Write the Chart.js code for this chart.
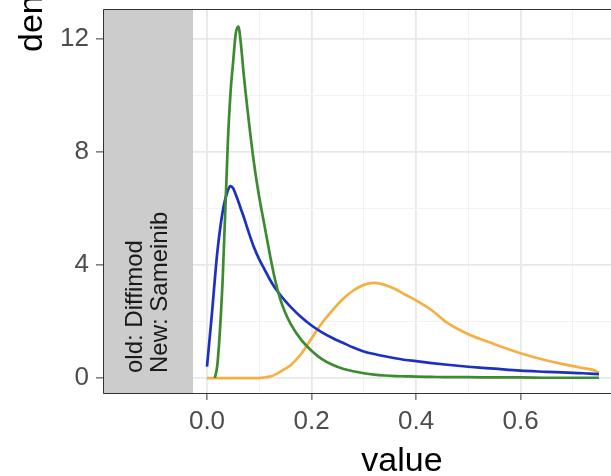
<!DOCTYPE html>
<html lang="en">
  <head>
    <meta charset="UTF-8" />
    <title>Density by value</title>
    <script src="https://cdn.jsdelivr.net/npm/chart.js"></script>
    <style>
      body { margin: 0; background: #fff; }
    </style>
  </head>
  <body>
    <canvas id="densityChart" width="611" height="476"></canvas>
    <script>
      // x positions shared by all three density curves
      const xValues = [
        0, 0.01, 0.015, 0.02, 0.03, 0.04, 0.045, 0.05, 0.055, 0.06, 0.065, 0.07,
        0.08, 0.09, 0.1, 0.11, 0.12, 0.13, 0.14, 0.15, 0.16, 0.18, 0.2, 0.22,
        0.24, 0.26, 0.28, 0.3, 0.32, 0.34, 0.36, 0.38, 0.4, 0.43, 0.46, 0.5,
        0.55, 0.6, 0.65, 0.7, 0.72, 0.74, 0.75,
      ];
      const greenDensity = [
        null, null, 0, 0.5, 3.5, 8.4, 10.1, 11.2, 12.2, 12.45, 11.8, 10.8,
        9.1, 7.6, 6.4, 5.4, 4.4, 3.5, 2.8, 2.3, 1.92, 1.36, 0.97, 0.67,
        0.47, 0.33, 0.24, 0.17, 0.12, 0.09, 0.07, 0.06, 0.05, 0.04, 0.03, 0.03,
        0.02, 0.02, 0.01, 0.01, 0.01, 0.01, 0.01,
      ];
      const blueDensity = [
        0.4, 2.4, 3.5, 4.5, 5.9, 6.65, 6.8, 6.72, 6.5, 6.25, 5.98, 5.72,
        5.15, 4.62, 4.2, 3.85, 3.5, 3.2, 2.95, 2.72, 2.52, 2.16, 1.86, 1.62,
        1.42, 1.25, 1.08, 0.94, 0.85, 0.77, 0.7, 0.64, 0.6, 0.53, 0.47, 0.4,
        0.33, 0.26, 0.22, 0.18, 0.17, 0.15, 0.14,
      ];
      const orangeDensity = [
        0, 0, 0, 0, 0, 0, 0, 0, 0, 0, 0, 0,
        0, 0, 0, 0.02, 0.05, 0.12, 0.22, 0.33, 0.45, 0.85, 1.4, 1.95,
        2.4, 2.8, 3.1, 3.3, 3.37, 3.3, 3.15, 2.95, 2.75, 2.4, 1.95, 1.55,
        1.2, 0.88, 0.62, 0.42, 0.35, 0.28, 0.18,
      ];
      const stripLines = ["old: Diffimod", "New: Sameinib"];
      const xTitle = "value";
      const yTitle = "density";

      function toPoints(values) {
        return xValues.map((x, i) => ({ x: x, y: values[i] }));
      }

      const isMajorX = (v) => Math.round(v * 10) % 2 === 0;
      const isMajorY = (v) => Math.round(v) % 4 === 0;

      const panelDecor = {
        id: "panelDecor",
        beforeDatasetsDraw(chart) {
          const { ctx, chartArea } = chart;
          ctx.save();
          ctx.fillStyle = "#cccccc";
          ctx.fillRect(chartArea.left, chartArea.top, 90, chartArea.bottom - chartArea.top);
          // strip label, rotated
          ctx.translate(chartArea.left + 39, chartArea.bottom - 20);
          ctx.rotate(-Math.PI / 2);
          ctx.fillStyle = "#1a1a1a";
          ctx.font = "24px 'Liberation Sans', Arial, sans-serif";
          ctx.textAlign = "left";
          ctx.textBaseline = "alphabetic";
          stripLines.forEach((line, i) => {
            ctx.fillText(line, 0, i * 25);
          });
          ctx.restore();
        },
        afterDatasetsDraw(chart) {
          const { ctx, chartArea } = chart;
          ctx.save();
          ctx.strokeStyle = "#333333";
          ctx.lineWidth = 1;
          ctx.beginPath();
          ctx.moveTo(chartArea.right, chartArea.top + 0.5);
          ctx.lineTo(chartArea.left + 0.5, chartArea.top + 0.5);
          ctx.lineTo(chartArea.left + 0.5, chartArea.bottom + 0.5);
          ctx.lineTo(chartArea.right, chartArea.bottom + 0.5);
          ctx.stroke();
          ctx.restore();
        },
        afterDraw(chart) {
          const { ctx } = chart;
          ctx.save();
          ctx.fillStyle = "#000000";
          ctx.font = "34px 'Liberation Sans', Arial, sans-serif";
          ctx.textAlign = "center";
          ctx.textBaseline = "alphabetic";
          ctx.fillText(xTitle, 402, 471);
          ctx.translate(42, 52);
          ctx.rotate(-Math.PI / 2);
          ctx.textAlign = "left";
          ctx.fillText(yTitle, 0, 0);
          ctx.restore();
        },
      };

      const ctx = document.getElementById("densityChart").getContext("2d");
      new Chart(ctx, {
        type: "line",
        data: {
          datasets: [
            {
              label: "green",
              data: toPoints(greenDensity),
              borderColor: "#3d8b30",
            },
            {
              label: "blue",
              data: toPoints(blueDensity),
              borderColor: "#1c30c2",
            },
            {
              label: "orange",
              data: toPoints(orangeDensity),
              borderColor: "#f5b041",
            },
          ],
        },
        options: {
          responsive: false,
          animation: false,
          devicePixelRatio: 1,
          layout: { padding: { top: 9, right: 0, bottom: 0, left: 0 } },
          elements: {
            point: { radius: 0 },
            line: { borderWidth: 2.7, cubicInterpolationMode: "monotone", fill: false },
          },
          plugins: {
            legend: { display: false },
            tooltip: { enabled: false },
          },
          scales: {
            x: {
              type: "linear",
              min: -0.199,
              max: 0.773,
              afterFit: (scale) => {
                scale.height = 83;
                scale.paddingLeft = 0;
                scale.paddingRight = 0;
              },
              border: { display: false },
              grid: {
                color: (c) => (c.tick && isMajorX(c.tick.value) ? "#e8e8e8" : "#f2f2f2"),
                lineWidth: (c) => (c.tick && isMajorX(c.tick.value) ? 1.8 : 1),
                tickColor: (c) =>
                  c.tick && isMajorX(c.tick.value) && c.tick.value >= 0 ? "#333333" : "rgba(0,0,0,0)",
                tickLength: 7,
                tickWidth: 1,
              },
              ticks: {
                stepSize: 0.1,
                includeBounds: false,
                maxRotation: 0,
                autoSkip: false,
                padding: 6,
                color: "#4d4d4d",
                font: { family: "'Liberation Sans', Arial, sans-serif", size: 26 },
                callback: (v) => (isMajorX(v) && v > -0.05 ? Math.abs(v).toFixed(1) : ""),
              },
            },
            y: {
              min: -0.53,
              max: 13.07,
              afterFit: (scale) => {
                scale.width = 103;
                scale.paddingTop = 0;
                scale.paddingBottom = 0;
              },
              border: { display: false },
              grid: {
                color: (c) => (c.tick && isMajorY(c.tick.value) ? "#e8e8e8" : "#f2f2f2"),
                lineWidth: (c) => (c.tick && isMajorY(c.tick.value) ? 1.8 : 1),
                tickColor: (c) => (c.tick && isMajorY(c.tick.value) ? "#333333" : "rgba(0,0,0,0)"),
                tickLength: 7,
                tickWidth: 1,
              },
              ticks: {
                stepSize: 2,
                includeBounds: false,
                autoSkip: false,
                padding: 7,
                color: "#4d4d4d",
                font: { family: "'Liberation Sans', Arial, sans-serif", size: 26 },
                callback: (v) => (isMajorY(v) ? String(v) : ""),
              },
            },
          },
        },
        plugins: [panelDecor],
      });
    </script>
  </body>
</html>
